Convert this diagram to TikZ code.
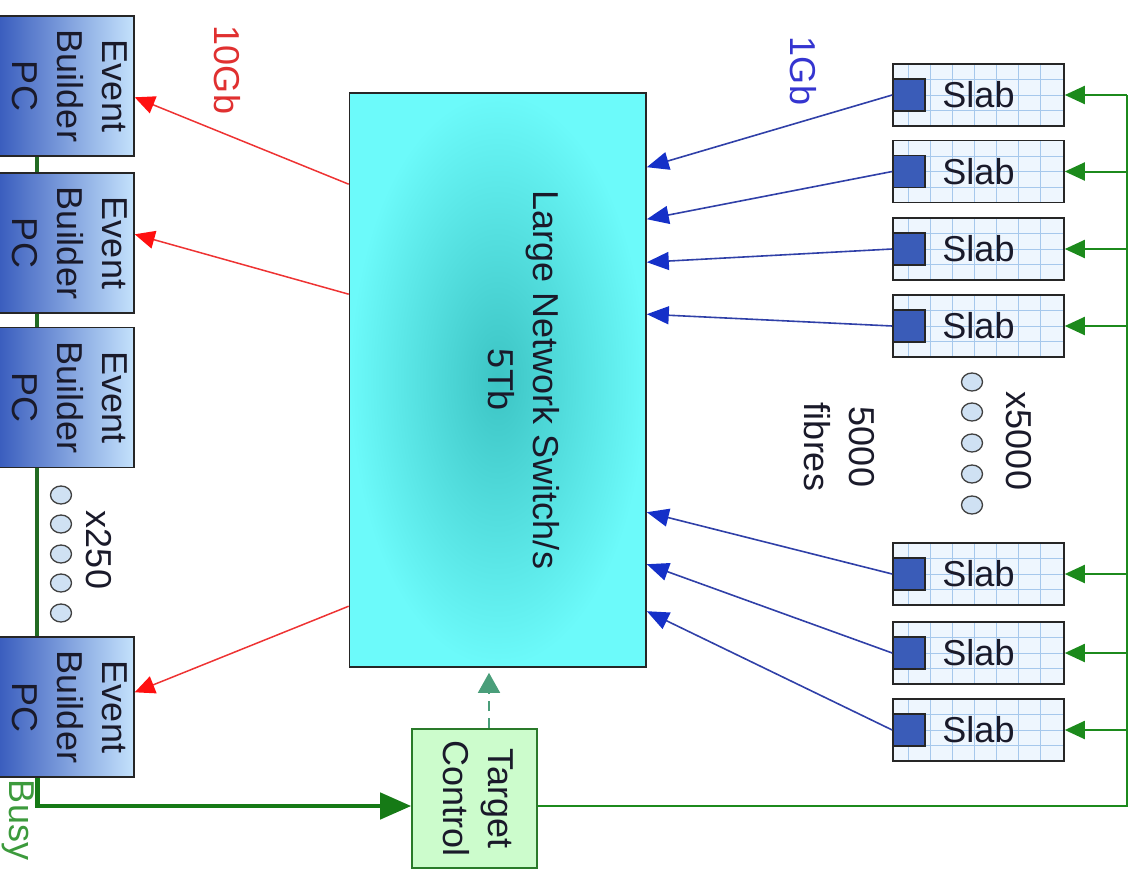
\documentclass[tikz,border=0pt]{standalone}
\usepackage{fontspec}
\setmainfont{Liberation Sans}
\usetikzlibrary{arrows.meta,calc,shapes.geometric}
\definecolor{ebdark}{HTML}{3A5DBE}
\definecolor{eblight}{HTML}{C4E2FC}
\definecolor{swin}{HTML}{3CC4C4}
\definecolor{swout}{HTML}{6CFAFA}
\definecolor{slabfill}{HTML}{EEF6FE}
\definecolor{gridc}{HTML}{A6C8EC}
\definecolor{portblue}{HTML}{3A5CB8}
\definecolor{dotfill}{HTML}{CFE1F3}
\definecolor{redl}{HTML}{EE3333}
\definecolor{redh}{HTML}{FF1010}
\definecolor{bluel}{HTML}{3040A8}
\definecolor{blueh}{HTML}{1530C8}
\definecolor{glinec}{HTML}{1C8A1C}
\definecolor{busyc}{HTML}{167A16}
\definecolor{chainc}{HTML}{226B22}
\definecolor{tcfill}{HTML}{CCFCCC}
\definecolor{tcdraw}{HTML}{2A7A2A}
\definecolor{dashc}{HTML}{4A9E7A}
\definecolor{labgreen}{HTML}{3C9A3C}
\definecolor{labblue}{HTML}{3535D0}
\definecolor{labred}{HTML}{E03030}
\definecolor{txtc}{HTML}{1A1A2A}
\newcommand{\vtxt}[1]{\rotatebox{-90}{\begin{tabular}{@{}c@{}}#1\end{tabular}}}
\begin{document}
\begin{tikzpicture}[x=1pt,y=-1pt,
  font=\fontsize{36}{45}\selectfont,
  every node/.style={text=txtc},
  ebbox/.style={draw=black!85, line width=1.4pt, left color=ebdark, right color=eblight,
    minimum width=127pt, minimum height=140pt, inner sep=0pt},
  slabbox/.style={draw=black!85, line width=1.6pt, fill=slabfill,
    minimum width=171pt, minimum height=62pt, inner sep=0pt,
    path picture={
      \foreach \k in {1,...,7}{\draw[gridc, line width=1pt]
        ([xshift=\k*22pt-7pt]path picture bounding box.north west) --
        ([xshift=\k*22pt-7pt]path picture bounding box.south west);}
      \foreach \k in {1,2,3}{\draw[gridc, line width=1pt]
        ($(path picture bounding box.north west)!\k/4!(path picture bounding box.south west)$) --
        ($(path picture bounding box.north east)!\k/4!(path picture bounding box.south east)$);}
    }},
  port/.style={draw=black!85, line width=1.4pt, fill=portblue, minimum size=32pt, inner sep=0pt, anchor=west},
  dotc/.style={ellipse, draw=black!75, line width=1.3pt, fill=dotfill, minimum width=21pt, minimum height=18pt, inner sep=0pt},
  swbox/.style={draw=black!85, line width=1.6pt, inner color=swin, outer color=swout,
    minimum width=296.5pt, minimum height=574pt, inner sep=0pt},
  tcbox/.style={draw=tcdraw, line width=1.6pt, fill=tcfill, minimum width=125pt, minimum height=139pt, inner sep=0pt},
  redarr/.style={draw=redl, line width=1.5pt, -{Triangle[length=20pt,width=18pt,color=redh]}},
  bluearr/.style={draw=bluel, line width=1.6pt, -{Triangle[length=22pt,width=18pt,color=blueh]}},
  garr/.style={draw=glinec, line width=2pt, -{Triangle[length=20pt,width=18pt]}},
  gline/.style={draw=glinec, line width=2pt},
  chain/.style={draw=chainc, line width=4pt},
  busy/.style={draw=busyc, line width=4.5pt, -{Triangle[length=31pt,width=26pt]}},
  dasharr/.style={draw=dashc, line width=1.6pt, dash pattern=on 10pt off 7pt, -{Triangle[length=20pt,width=22pt]}},
  lab/.style={inner sep=0pt}
]
\useasboundingbox (0,0) rectangle (1138,870);

% switch
\node[swbox] (sw) at (497.75,380) {};
\node[lab] (swl) at (520,380) {\vtxt{Large Network Switch/s\\5Tb}};

% event builders
\node[ebbox] (eb1) at (66.5,86) {\vtxt{Event\\Builder\\PC}};
\node[ebbox] (eb2) at (66.5,243) {\vtxt{Event\\Builder\\PC}};
\node[ebbox] (eb3) at (66.5,397.5) {\vtxt{Event\\Builder\\PC}};
\node[ebbox] (eb4) at (66.5,707) {\vtxt{Event\\Builder\\PC}};

\draw[chain] ($(eb1.south west)+(39,0)$) -- ($(eb2.north west)+(39,0)$);
\draw[chain] ($(eb2.south west)+(39,0)$) -- ($(eb3.north west)+(39,0)$);
\draw[chain] ($(eb3.south west)+(39,0)$) -- ($(eb4.north west)+(39,0)$);

% dots near event builders
\foreach \i/\yy in {1/495,2/524,3/554,4/583,5/613}{\node[dotc] (ed\i) at (61,\yy) {};}
\node[lab] (x250) at (95,550) {\vtxt{x250}};

% target control
\node[tcbox] (tc) at (474.5,798.5) {\vtxt{Target\\Control}};

% slabs
\foreach \i/\yy in {1/95,2/171.5,3/249,4/326,5/574,6/653,7/730}{
  \node[slabbox] (sl\i) at (978.5,\yy) {Slab};
  \node[port] (p\i) at (sl\i.west) {};
}
\foreach \i/\yy in {1/382,2/412,3/443,4/474,5/505}{\node[dotc] (sd\i) at (972,\yy) {};}
\node[lab] (x5000) at (1015,441) {\vtxt{x5000}};
\node[lab] (fib) at (836,447) {\vtxt{5000\\fibres}};

% labels
\node[lab, text=labred] (l10) at (223,70) {\vtxt{10Gb}};
\node[lab, text=labblue] (l1) at (799,71) {\vtxt{1Gb}};
\node[lab, text=labgreen] (lbusy) at (18,820) {\vtxt{Busy}};

% red arrows
\draw[redarr] ($(sw.north west)+(0,92)$) -- ($(eb1.north east)+(0,82)$);
\draw[redarr] ($(sw.north west)+(0,202)$) -- ($(eb2.north east)+(0,62)$);
\draw[redarr] ($(sw.north west)+(0,514)$) -- ($(eb4.north east)+(0,56)$);

% blue arrows
\draw[bluearr] (p1.west) -- ($(sw.north east)+(0,75)$);
\draw[bluearr] (p2.west) -- ($(sw.north east)+(0,127)$);
\draw[bluearr] (p3.west) -- ($(sw.north east)+(0,170)$);
\draw[bluearr] (p4.west) -- ($(sw.north east)+(0,222)$);
\draw[bluearr] (p5.west) -- ($(sw.north east)+(0,420)$);
\draw[bluearr] (p6.west) -- ($(sw.north east)+(0,472)$);
\draw[bluearr] (p7.west) -- ($(sw.north east)+(0,519)$);

% green bus
\coordinate (busT) at (1127,95);
\coordinate (busB) at (1127,806);
\draw[gline] ($(tc.east)+(0,7.5)$) -- (busB) -- (busT);
\foreach \i in {1,...,7}{\draw[garr] (sl\i.east -| busT) -- (sl\i.east);}

% busy
\draw[busy] ($(eb4.south west)+(39,0)$) |- ($(tc.west)+(0,7.5)$);

% dashed control
\draw[dasharr] ($(tc.north)+(14.5,0)$) -- ($(sw.south)+(-8.75,5)$);
\end{tikzpicture}
\end{document}
